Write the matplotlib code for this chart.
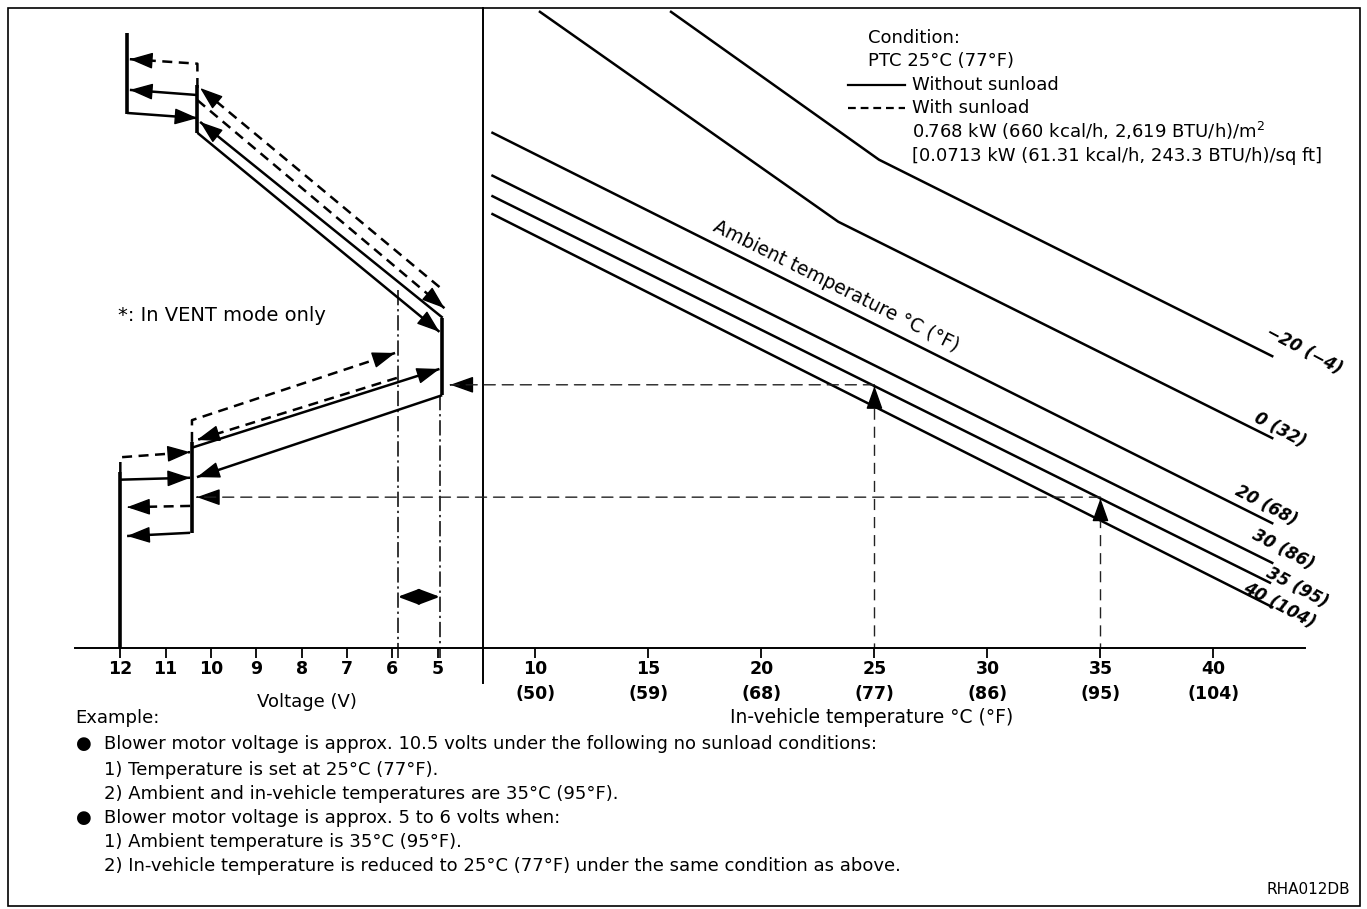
import numpy as np
import matplotlib.pyplot as plt
from matplotlib.patches import ConnectionPatch, Rectangle

plt.rcParams['font.family'] = ['DejaVu Sans']

# ---------------- data ----------------
# right panel: blower level vs in-vehicle temperature, one line per ambient temp
amb_labels = ['\u221220 (\u22124)', '0 (32)', '20 (68)', '30 (86)', '35 (95)', '40 (104)']
amb_m20_t = [16.0, 25.2, 42.6]
amb_m20_y = [99.4, 76.3, 45.6]
amb_0_t = [10.2, 23.4, 42.6]
amb_0_y = [99.4, 66.6, 32.8]
amb_20_t = [8.1, 42.6]
amb_20_y = [80.5, 19.5]
amb_30_t = [8.1, 42.6]
amb_30_y = [73.8, 13.3]
amb_35_t = [8.1, 42.5]
amb_35_y = [70.6, 10.2]
amb_40_t = [8.1, 42.6]
amb_40_y = [67.8, 6.4]

temp_ticks = [10, 15, 20, 25, 30, 35, 40]
temp_f = ['50', '59', '68', '77', '86', '95', '104']
volt_ticks = [12, 11, 10, 9, 8, 7, 6, 5]

# left panel: blower voltage hysteresis (voltage, level)
# upper (heating) group
hi_v, hi_y = [11.85, 11.85], [96.1, 83.4]
mid_v, mid_y = [10.3, 10.3], [88.0, 80.5]
sun_up_v, sun_up_y = [10.3, 10.3, 11.79], [87.5, 91.3, 92.0]
jump_up_v, jump_up_y = [10.3, 11.79], [86.4, 87.2]
jump_dn_v, jump_dn_y = [11.85, 10.3], [83.6, 82.8]
d1_v, d1_y = [4.96, 10.24], [56.4, 87.5]
d2_v, d2_y = [10.3, 4.85], [85.6, 53.1]
s1_v, s1_y = [4.89, 10.24], [51.6, 82.2]
s2_v, s2_y = [10.3, 4.96], [80.5, 49.4]
low5_v, low5_y = [4.9, 4.9], [51.6, 39.5]
# lower (cooling) group
lhi_v, lhi_y = [12.0, 12.0], [27.5, 0.0]
lsun_v, lsun_y = [12.0, 12.0, 10.46], [27.5, 29.8, 30.6]
ljd_v, ljd_y = [12.0, 10.46], [26.3, 26.6]
lsun_up_v, lsun_up_y = [10.46, 11.85], [22.2, 22.0]
lju_v, lju_y = [10.46, 11.85], [18.0, 17.5]
lmid_v, lmid_y = [10.42, 10.42], [32.2, 18.0]
ld1_v, ld1_y = [10.42, 10.42, 5.94], [32.2, 35.6, 46.1]
ld2_v, ld2_y = [5.9, 10.31], [42.2, 32.5]
ls1_v, ls1_y = [10.42, 4.96], [31.3, 43.6]
ls2_v, ls2_y = [4.9, 10.31], [39.5, 26.7]
vent_v, vent_y = [5.88, 5.88], [55.9, 0.0]
v5_v, v5_y = [4.95, 4.95], [39.5, 0.0]
span_v, span_y = [5.88, 4.95], 8.0

# worked example: in-vehicle temps and where the arrows land on the voltage side
ex_temp = [25, 35]
ex_volt = [4.72, 10.31]

notes = [
    ('\u25cf', 'Blower motor voltage is approx. 10.5 volts under the following no sunload conditions:'),
    ('', '1) Temperature is set at 25\u00b0C (77\u00b0F).'),
    ('', '2) Ambient and in-vehicle temperatures are 35\u00b0C (95\u00b0F).'),
    ('\u25cf', 'Blower motor voltage is approx. 5 to 6 volts when:'),
    ('', '1) Ambient temperature is 35\u00b0C (95\u00b0F).'),
    ('', '2) In-vehicle temperature is reduced to 25\u00b0C (77\u00b0F) under the same condition as above.'),
]

# ---------------- figure ----------------
W, H = 1367, 909
fig = plt.figure(figsize=(W / 100, H / 100), dpi=100)
bot = (H - 648) / H
hgt = 640 / H
ax1 = fig.add_axes([75 / W, bot, 408 / W, hgt])
ax2 = fig.add_axes([483 / W, bot, 822 / W, hgt])

FS = 13

ax1.set_xlim(13.0, 4.0)
ax2.set_xlim(7.68, 44.05)
for ax in (ax1, ax2):
    ax.set_ylim(0, 100)
    ax.set_yticks([])
    for s in ('top', 'right', 'left'):
        ax.spines[s].set_visible(False)
    ax.spines['bottom'].set_linewidth(1.4)
    ax.tick_params(axis='x', direction='out', length=7, width=1.3, pad=1.5,
                   labelsize=12.5)

ax1.set_xticks(volt_ticks)
ax1.set_xticklabels([str(v) for v in volt_ticks], fontweight='bold')
ax2.set_xticks(temp_ticks)
ax2.set_xticklabels(['%d\n(%s)' % (t, f) for t, f in zip(temp_ticks, temp_f)],
                    fontweight='bold')
for lab in ax2.get_xticklabels():
    lab.set_linespacing(1.5)

# divider between the two panels
ax2.plot([0, 0], [-0.055, 1.0], color='k', lw=1.4, transform=ax2.transAxes,
         clip_on=False)

ax1.text(0.569, -0.084, 'Voltage (V)', transform=ax1.transAxes, ha='center',
         va='center', fontsize=FS)
ax2.text(0.473, -0.109, 'In-vehicle temperature \u00b0C (\u00b0F)',
         transform=ax2.transAxes, ha='center', va='center', fontsize=13.5)

LW = 1.8
DASH = (4, 2.6)


def head(ax, xs, ys):
    # filled arrow head on the last segment of a path
    x0, y0, x1, y1 = xs[-2], ys[-2], xs[-1], ys[-1]
    xb = x1 - (x1 - x0) * 0.02
    yb = y1 - (y1 - y0) * 0.02
    ax.annotate('', xy=(x1, y1), xytext=(xb, yb),
                arrowprops=dict(arrowstyle='-|>,head_length=0.9,head_width=0.32',
                                color='k', lw=1, shrinkA=0, shrinkB=0,
                                mutation_scale=16))


def path(ax, xs, ys, dashed=False, arrow=False, lw=LW):
    if dashed:
        ax.plot(xs, ys, color='k', lw=lw, dashes=DASH, clip_on=False)
    else:
        ax.plot(xs, ys, color='k', lw=lw, solid_capstyle='butt', clip_on=False)
    if arrow:
        head(ax, xs, ys)


# right panel curves
amb_t = [amb_m20_t, amb_0_t, amb_20_t, amb_30_t, amb_35_t, amb_40_t]
amb_y = [amb_m20_y, amb_0_y, amb_20_y, amb_30_y, amb_35_y, amb_40_y]
for t, y in zip(amb_t, amb_y):
    ax2.plot(t, y, color='k', lw=LW)

lab_pos = [(44.0, 46.5), (42.94, 34.1), (42.33, 22.3), (43.08, 15.3),
           (43.7, 9.4), (42.9, 6.6)]
for txt, (x, y) in zip(amb_labels, lab_pos):
    ax2.text(x, y, txt, rotation=-28, ha='center', va='center', fontsize=12,
             fontstyle='italic', fontweight='bold', rotation_mode='anchor',
             clip_on=False)

ax2.text(23.3, 56.6, 'Ambient temperature \u00b0C (\u00b0F)', rotation=-26.5,
         ha='center', va='center', fontsize=13.5, rotation_mode='anchor')

# legend block
ax2.text(0.468, 0.953, 'Condition:', transform=ax2.transAxes, fontsize=FS,
         va='center')
ax2.text(0.468, 0.917, 'PTC 25\u00b0C (77\u00b0F)', transform=ax2.transAxes,
         fontsize=FS, va='center')
ax2.plot([0.444, 0.513], [0.8797, 0.8797], color='k', lw=1.6,
         transform=ax2.transAxes)
ax2.plot([0.444, 0.513], [0.8438, 0.8438], color='k', lw=1.6, dashes=(3.5, 2.2),
         transform=ax2.transAxes)
ax2.text(0.522, 0.8797, 'Without sunload', transform=ax2.transAxes,
         fontsize=FS, va='center')
ax2.text(0.522, 0.8438, 'With sunload', transform=ax2.transAxes,
         fontsize=FS, va='center')
ax2.text(0.522, 0.8078, '0.768 kW (660 kcal/h, 2,619 BTU/h)/m$^2$',
         transform=ax2.transAxes, fontsize=FS, va='center')
ax2.text(0.522, 0.769, '[0.0713 kW (61.31 kcal/h, 243.3 BTU/h)/sq ft]',
         transform=ax2.transAxes, fontsize=FS, va='center')

# left panel hysteresis paths
path(ax1, hi_v, hi_y, lw=2.6)
path(ax1, mid_v, mid_y, lw=2.6)
path(ax1, sun_up_v, sun_up_y, dashed=True, arrow=True)
path(ax1, jump_up_v, jump_up_y, arrow=True)
path(ax1, jump_dn_v, jump_dn_y, arrow=True)
path(ax1, d1_v, d1_y, dashed=True, arrow=True)
path(ax1, d2_v, d2_y, dashed=True, arrow=True)
path(ax1, s1_v, s1_y, arrow=True)
path(ax1, s2_v, s2_y, arrow=True)
path(ax1, low5_v, low5_y, lw=2.6)

path(ax1, lhi_v, lhi_y, lw=2.6)
path(ax1, lsun_v, lsun_y, dashed=True, arrow=True)
path(ax1, ljd_v, ljd_y, arrow=True)
path(ax1, lsun_up_v, lsun_up_y, dashed=True, arrow=True)
path(ax1, lju_v, lju_y, arrow=True)
path(ax1, lmid_v, lmid_y, lw=2.6)
path(ax1, ld1_v, ld1_y, dashed=True, arrow=True)
path(ax1, ld2_v, ld2_y, dashed=True, arrow=True)
path(ax1, ls1_v, ls1_y, arrow=True)
path(ax1, ls2_v, ls2_y, arrow=True)

for xs, ys in ((vent_v, vent_y), (v5_v, v5_y)):
    ax1.plot(xs, [ys[0], -1.5], color='k', lw=1.1, dashes=(10, 2.5, 1.5, 2.5),
             clip_on=False)
ax1.annotate('', xy=(span_v[1], span_y), xytext=(span_v[0], span_y),
             arrowprops=dict(arrowstyle='<|-|>,head_length=0.8,head_width=0.3',
                             color='k', lw=1.8, shrinkA=0, shrinkB=0,
                             mutation_scale=16))

ax1.text(12.05, 52.0, '*: In VENT mode only', fontsize=14, va='center',
         ha='left')

# worked example arrows
for t, v in zip(ex_temp, ex_volt):
    lvl = np.interp(t, amb_35_t, amb_35_y)
    ax2.plot([t, t], [-1.0, lvl - 2.0], color='#222', lw=1.0, dashes=(8, 5))
    head(ax2, [t, t], [lvl - 3.0, lvl])
    con = ConnectionPatch(xyA=(t, lvl + 0.2), coordsA=ax2.transData,
                          xyB=(v, lvl + 0.2), coordsB=ax1.transData,
                          color='#222', lw=1.0, linestyle=(0, (8, 5)))
    fig.add_artist(con)
    head(ax1, [v - 0.4, v], [lvl + 0.2, lvl + 0.2])

# notes
fig.text(75 / W, 1 - 718 / H, 'Example:', fontsize=FS, va='center')
ys_note = [744, 770, 794, 818, 842, 866]
for (b, s), y in zip(notes, ys_note):
    if b:
        fig.text(76 / W, 1 - y / H, b, fontsize=FS, va='center')
    fig.text(104 / W, 1 - y / H, s, fontsize=FS, va='center')
fig.text(1350 / W, 1 - 890 / H, 'RHA012DB', fontsize=11, va='center', ha='right')

fig.patches.append(Rectangle((8 / W, 1 - 906 / H), 1352 / W, 898 / H,
                             transform=fig.transFigure, fill=False, lw=1.2,
                             edgecolor='k'))

fig.savefig('out.png', dpi=100)
